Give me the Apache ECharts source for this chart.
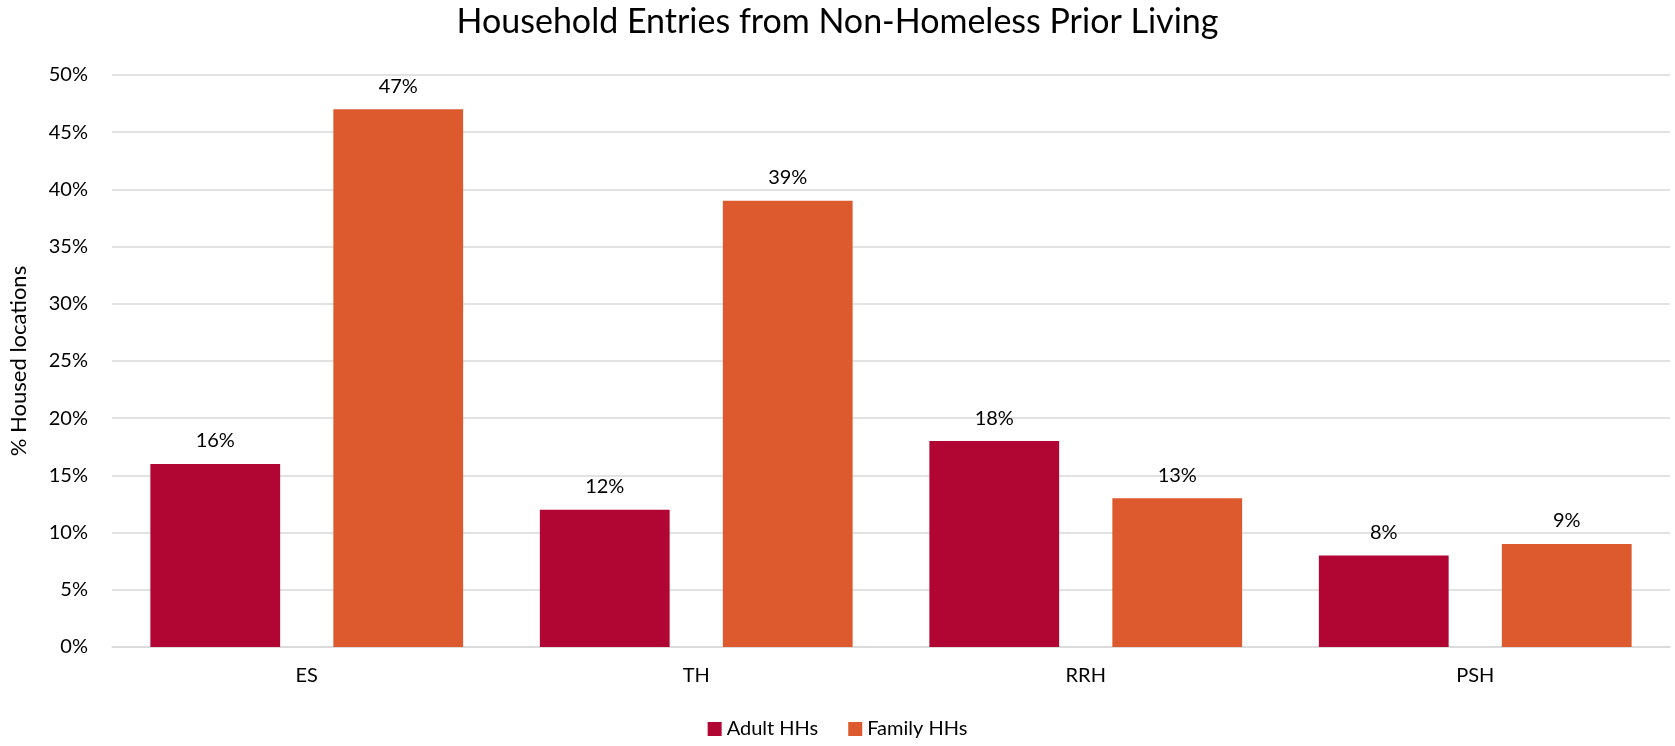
<!DOCTYPE html>
<html>
<head>
<meta charset="UTF-8">
<title>Household Entries from Non-Homeless Prior Living</title>
<script type="text/javascript" src="https://cdn.jsdelivr.net/npm/echarts@6/dist/echarts.min.js"></script>
</head>
<body style="margin:0">
	<div id="box" style="width: 1675px; height: 746px;"></div>

	<script type="text/javascript">
		var categories = ['ES', 'TH', 'RRH', 'PSH'];
		var adultHHs = [16, 12, 18, 8];
		var familyHHs = [47, 39, 13, 9];
		var yTicks = [0, 5, 10, 15, 20, 25, 30, 35, 40, 45, 50];

		var font = 'Lato, "Open Sans", sans-serif';
		var myChart = echarts.init(document.getElementById('box'));
		myChart.setOption({
			textStyle : { fontFamily : font },
			title : {
				text : 'Household Entries from Non-Homeless Prior Living',
				left : 'center',
				top : 0,
				textStyle : { fontSize : 34, fontWeight : 'normal', color : '#000', fontFamily : font }
			},
			legend : {
				data : [ 'Adult HHs', 'Family HHs' ],
				bottom : 2,
				itemWidth : 14,
				itemHeight : 14,
				icon : 'rect',
				itemGap : 30,
				textStyle : { fontSize : 20, color : '#000' }
			},
			grid : { left : 110, right : 5, top : 75, bottom : 99 },
			xAxis : {
				type : 'category',
				data : categories,
				axisTick : { show : false },
				axisLine : { lineStyle : { color : '#d9d9d9', width : 1.5 } },
				axisLabel : { fontSize : 20, color : '#000', margin : 19 }
			},
			yAxis : {
				type : 'value',
				min : yTicks[0],
				max : yTicks[yTicks.length - 1],
				interval : 5,
				name : '% Housed locations',
				nameLocation : 'middle',
				nameGap : 82,
				nameTextStyle : { fontSize : 22, color : '#000' },
				axisLabel : { fontSize : 20, color : '#000', margin : 24, formatter : '{value}%' },
				splitLine : { lineStyle : { color : '#d9d9d9', width : 1.5 } }
			},
			series : [ {
				name : 'Adult HHs',
				type : 'bar',
				data : adultHHs,
				barGap : '41%',
				barCategoryGap : '19.7%',
				itemStyle : { color : '#B10634' },
				label : { show : true, position : 'top', distance : 13, fontSize : 20, color : '#000', formatter : '{c}%' }
			}, {
				name : 'Family HHs',
				type : 'bar',
				data : familyHHs,
				itemStyle : { color : '#DC5A2E' },
				label : { show : true, position : 'top', distance : 13, fontSize : 20, color : '#000', formatter : '{c}%' }
			} ]
		});
	</script>

</body>
</html>
